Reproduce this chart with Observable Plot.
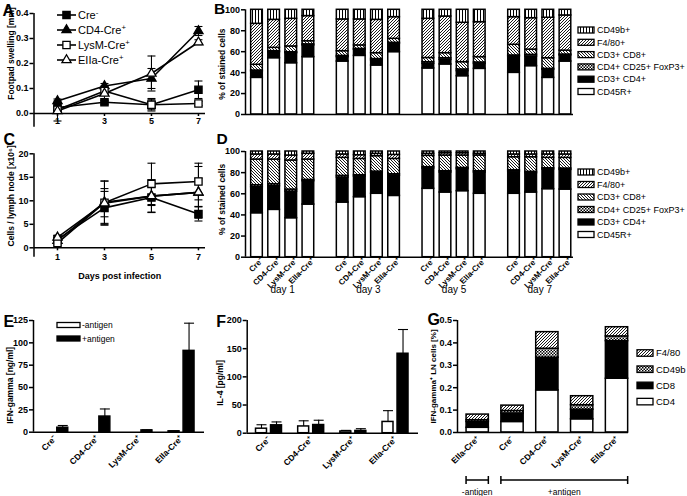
<!DOCTYPE html>
<html><head><meta charset="utf-8">
<script src="https://cdn.jsdelivr.net/npm/d3@7"></script>
<script src="https://cdn.jsdelivr.net/npm/@observablehq/plot@0.6"></script>
<style>
html,body{margin:0;padding:0;background:#fff;}
#fig{position:relative;width:687px;height:496px;overflow:hidden;background:#fff;font-family:"Liberation Sans",Arial,sans-serif;}
#fig svg{position:absolute;overflow:visible;}
</style></head><body><div id="fig"></div>
<script>
// ---------------- data ----------------
const days = [1, 3, 5, 7];
const genotypes = ["Cre⁻", "CD4-Cre⁺", "LysM-Cre⁺", "EIIa-Cre⁺"];
const dayLabels = ["day 1", "day 3", "day 5", "day 7"];

// A: footpad swelling [mm]
const swellCre  = [0.024, 0.045, 0.035, 0.095];
const swellCD4  = [0.05, 0.11, 0.14, 0.33];
const swellLysM = [0.015, 0.09, 0.035, 0.04];
const swellEIIa = [0.01, 0.08, 0.16, 0.285];
const swellCreErr  = [0.01, 0.008, 0.02, 0.035];
const swellCD4Err  = [0.008, 0.01, 0.04, 0.018];
const swellLysMErr = [0.012, 0.015, 0.025, 0.008];
const swellEIIaErr = [0.04, 0.03, 0.07, 0.01];

// C: cells / lymph node [x10^6]
const cellsCre  = [1.8, 8.5, 10.7, 7.2];
const cellsCD4  = [1.5, 9.7, 11.0, 11.8];
const cellsLysM = [1.0, 9.6, 13.6, 14.1];
const cellsEIIa = [2.2, 9.5, 11.0, 11.8];
const cellsCreErr  = [0.4, 3.5, 3.1, 1.5];
const cellsCD4Err  = [0.4, 4.5, 3.5, 5.5];
const cellsLysMErr = [0.4, 3.0, 4.4, 3.9];
const cellsEIIaErr = [0.5, 4.7, 2.0, 3.0];

// B: footpad, % of stained cells (16 bars: day1..day7 x Cre-, CD4, LysM, EIIa)
const footCD45R  = [35, 53.8, 49, 54.8, 50.6, 56, 46.8, 59.6, 44, 47.8, 36.6, 43.6, 39.8, 46.2, 35, 50.6];
const footCD3CD4 = [6, 5.7, 9.6, 11.2, 4.2, 5.8, 4.8, 7.9, 4.4, 4.4, 4.8, 4.8, 15.6, 9.2, 7.7, 5.8];
const footTreg   = [1, 1, 0.9, 1, 1.2, 0.9, 1.4, 1, 1.6, 1.6, 1.6, 1.3, 1, 1.6, 0.9, 0.9];
const footCD8    = [5.5, 3.2, 5.5, 3, 4.5, 3.3, 5.6, 3.8, 4, 4.8, 7, 5.1, 10.2, 5, 10.2, 3.7];
const footF480   = [39.1, 26.7, 26.4, 24, 30.3, 24.8, 31.8, 20.7, 37.4, 35, 37.6, 33.4, 26.4, 30, 38.6, 33.6];
const footCD49b  = [13.4, 9.6, 8.6, 6, 9.2, 9.2, 9.6, 7, 8.6, 6.4, 12.4, 11.8, 7, 8, 7.6, 5.4];

// D: lymph node, % of stained cells
const lnCD45R  = [41.6, 44.8, 36.9, 49.8, 51.7, 56.8, 60, 58, 64.7, 61.2, 62.5, 60, 60, 61.2, 64.4, 64];
const lnCD3CD4 = [24.6, 22.4, 25.2, 22.1, 23.7, 19.5, 19.8, 19, 19.2, 18.9, 20.8, 20.1, 21, 18.3, 18.6, 18.6];
const lnTreg   = [1.9, 1.9, 1.9, 1.3, 1.6, 1.3, 1.2, 1.5, 1.3, 1.3, 1.2, 1.3, 1.3, 1.3, 1.2, 1.3];
const lnCD8    = [24.3, 23.3, 27.5, 19.2, 17, 15.4, 14.6, 14.5, 10.7, 14.8, 11.7, 14.8, 12.3, 13.8, 9.8, 10.1];
const lnF480   = [4.8, 4.8, 4.7, 5.4, 3.2, 3.5, 2.2, 3.8, 1.9, 2.2, 2.2, 1.6, 2.6, 2.6, 3.2, 3.2];
const lnCD49b  = [2.8, 2.8, 3.8, 2.2, 2.8, 3.5, 2.2, 3.2, 2.2, 1.6, 1.6, 2.2, 2.8, 2.8, 2.8, 2.8];
const stackLabels = ["CD45R+", "CD3+ CD4+", "CD4+ CD25+ FoxP3+", "CD3+ CD8+", "F4/80+", "CD49b+"];

// E: IFN-gamma [ng/ml]
const ifnMinus    = [0, 0, 0, 1];
const ifnMinusErr = [0, 0, 0, 0.4];
const ifnPlus     = [5, 17.5, 2, 91];
const ifnPlusErr  = [2.5, 8.5, 0.6, 31];

// F: IL-4 [pg/ml]
const il4Minus    = [8, 12, 3, 20];
const il4MinusErr = [7, 10, 2, 20];
const il4Plus     = [14, 14.5, 4, 141];
const il4PlusErr  = [6, 8.5, 4, 43];

// G: IFN-gamma+ LN cells [%]
const gLabels = ["EIIa-Cre⁺", "Cre⁻", "CD4-Cre⁺", "LysM-Cre⁺", "EIIa-Cre⁺"];
const gCD4   = [0.021, 0.047, 0.188, 0.059, 0.24];
const gCD8   = [0.026, 0.038, 0.146, 0.043, 0.168];
const gCD49b = [0.008, 0.011, 0.04, 0.02, 0.021];
const gF480  = [0.025, 0.024, 0.074, 0.04, 0.041];
const gStackLabels = ["CD4", "CD8", "CD49b", "F4/80"];
const antigenGroups = [{label: "-antigen", from: 0, to: 0}, {label: "+antigen", from: 1, to: 4}];

// ---------------- helpers ----------------
const FONT = '"Liberation Sans", Arial, sans-serif';
const fig = document.getElementById("fig");
const baseStyle = {fontFamily: FONT, fontSize: "9px", background: "transparent", overflow: "visible", color: "black"};
function mount(svg, left, top) {
  svg.style.position = "absolute"; svg.style.left = left + "px"; svg.style.top = top + "px";
  svg.style.overflow = "visible";
  fig.appendChild(svg); return svg;
}
// patterns
const defs = d3.create("svg").attr("width", 0).attr("height", 0);
defs.html(`<defs>
<pattern id="pVert" patternUnits="userSpaceOnUse" width="3" height="3"><rect width="3" height="3" fill="white"/><rect x="1" width="1" height="3" fill="black"/></pattern>
<pattern id="pDiagR" patternUnits="userSpaceOnUse" width="3" height="3"><rect width="3" height="3" fill="white"/><path d="M-0.75,0.75L0.75,-0.75M0,3L3,0M2.25,3.75L3.75,2.25" stroke="black" stroke-width="0.9"/></pattern>
<pattern id="pDiagL" patternUnits="userSpaceOnUse" width="3" height="3"><rect width="3" height="3" fill="white"/><path d="M-0.75,2.25L0.75,3.75M0,0L3,3M2.25,-0.75L3.75,0.75" stroke="black" stroke-width="0.9"/></pattern>
<pattern id="pCheck" patternUnits="userSpaceOnUse" width="3" height="3"><rect width="3" height="3" fill="white"/><rect width="1.5" height="1.5" fill="black"/><rect x="1.5" y="1.5" width="1.5" height="1.5" fill="black"/></pattern>
</defs>`);
mount(defs.node(), 0, 0);

const stackFills = ["white", "black", "url(#pCheck)", "url(#pDiagL)", "url(#pDiagR)", "url(#pVert)"];
const gFills = ["white", "black", "url(#pCheck)", "url(#pDiagR)"];
const cap = {draw(ctx) { ctx.moveTo(-4, 0); ctx.lineTo(4, 0); }};
const capW = {draw(ctx) { ctx.moveTo(-5, 0); ctx.lineTo(5, 0); }};
const markerStyles = [
  {symbol: "square", fill: "black", r: 4.1},
  {symbol: "triangle", fill: "black", r: 3.4},
  {symbol: "square", fill: "white", r: 4.1},
  {symbol: "triangle", fill: "white", r: 3.4}
];
const letter = (t, dx, dy, fs = 16) => Plot.text([t], {frameAnchor: "top-left", textAnchor: "start", lineAnchor: "top", dx, dy, fontSize: fs, fontWeight: "bold"});
const yTitle = (t, dx, dy, fs = 8.5) => Plot.text([t], {frameAnchor: "left", textAnchor: "middle", lineAnchor: "middle", rotate: -90, dx, dy, fontSize: fs, fontWeight: "bold"});

// ---------------- line panels A & C ----------------
function lineTable(vals, errs) {
  return vals.flatMap((arr, k) => arr.map((v, j) => ({series: k, day: days[j], v, e: errs[k][j]})));
}
function linePanel(table, o) {
  const marks = [
    Plot.ruleX([0], {y1: o.yExt, y2: o.yDomain[1], strokeWidth: 1.5}),
    Plot.ruleY([o.yDomain[0]], {strokeWidth: 1.5}),
    Plot.axisY({ticks: o.yTicks, tickFormat: o.yFormat, tickSize: 4, tickPadding: 1.5, fontWeight: "bold", fontSize: 9, strokeWidth: 1.5, label: null}),
    Plot.axisX({ticks: days, tickSize: 3, tickPadding: o.xPad, fontWeight: "bold", fontSize: 9, strokeWidth: 1.5, label: null}),
    Plot.line(table, {x: "day", y: "v", z: "series", stroke: "black", strokeWidth: 1.6}),
    Plot.ruleX(table, {x: "day", y1: d => d.v - d.e, y2: d => d.v + d.e, strokeWidth: 1.1}),
    Plot.dot(table, {x: "day", y: d => d.v + d.e, symbol: cap, stroke: "black", strokeWidth: 1.1}),
    Plot.dot(table, {x: "day", y: d => d.v - d.e, symbol: cap, stroke: "black", strokeWidth: 1.1})
  ];
  markerStyles.forEach((m, k) => marks.push(Plot.dot(table.filter(d => d.series === k),
    {x: "day", y: "v", symbol: m.symbol, r: m.r, fill: m.fill, stroke: "black", strokeWidth: 1.3})));
  marks.push(yTitle(o.title, -23, o.titleDy), letter(o.letter, o.lx, o.ly));
  if (o.xTitle) marks.push(Plot.text([o.xTitle], {frameAnchor: "bottom", dy: 30.7, fontSize: 9, fontWeight: "bold"}));
  return Plot.plot({
    width: 230, height: o.height, marginLeft: 33.5, marginRight: 25, marginTop: o.mt, marginBottom: o.mb,
    x: {domain: [0, 7.3]}, y: {domain: o.yDomain}, style: baseStyle, marks
  });
}
mount(linePanel(lineTable([swellCre, swellCD4, swellLysM, swellEIIa], [swellCreErr, swellCD4Err, swellLysMErr, swellEIIaErr]), {
  height: 140, mt: 13, mb: 27, yDomain: [0, 0.4], yExt: -0.055, yTicks: [0, 0.1, 0.2, 0.3, 0.4], yFormat: ".1f", xPad: 1,
  title: "Footpad swelling [mm]", titleDy: -10, letter: "A", lx: -31.5, ly: -9
}), 0, 0);
mount(linePanel(lineTable([cellsCre, cellsCD4, cellsLysM, cellsEIIa], [cellsCreErr, cellsCD4Err, cellsLysMErr, cellsEIIaErr]), {
  height: 160, mt: 13.3, mb: 52.7, yDomain: [0, 20], yExt: -2, yTicks: [0, 5, 10, 15, 20], yFormat: "d", xPad: 3,
  title: "Cells / lymph node [x10⁶]", titleDy: -5, letter: "C", lx: -30.5, ly: -20.3, xTitle: "Days post infection"
}), 0, 140);

// legend A
{
  const s = d3.create("svg").attr("width", 130).attr("height", 70).style("font-family", FONT).style("font-size", "11px");
  const names = [["Cre", "-"], ["CD4-Cre", "+"], ["LysM-Cre", "+"], ["EIIa-Cre", "+"]];
  names.forEach((n, k) => {
    const y = 10 + k * 15, m = markerStyles[k];
    s.append("line").attr("x1", 7).attr("x2", 26).attr("y1", y).attr("y2", y).attr("stroke", "black").attr("stroke-width", 1.6);
    const type = m.symbol === "square" ? d3.symbolSquare : d3.symbolTriangle;
    s.append("path").attr("d", d3.symbol(type, Math.PI * m.r * m.r)()).attr("transform", `translate(16.5,${y})`)
      .attr("fill", m.fill).attr("stroke", "black").attr("stroke-width", 1.3);
    const t = s.append("text").attr("x", 28).attr("y", y).attr("dy", "0.36em");
    t.append("tspan").text(n[0]);
    t.append("tspan").attr("dy", "-0.45em").attr("font-size", "0.7em").text(n[1]);
  });
  mount(s.node(), 50, 5);
}

// ---------------- stacked panels B & D ----------------
const slotOf = i => Math.floor(i / 4) * 5 + (i % 4);
function stackTable(series) {
  const rows = [];
  for (let i = 0; i < series[0].length; i++) {
    let c = 0;
    series.forEach((arr, k) => { rows.push({k, slot: slotOf(i), y1: c, y2: c + arr[i]}); c += arr[i]; });
  }
  return rows;
}
function stackPanel(series, o) {
  const table = stackTable(series);
  const marks = stackFills.map((f, k) => Plot.rect(table.filter(d => d.k === k),
    {x1: d => d.slot - 0.34, x2: d => d.slot + 0.34, y1: "y1", y2: "y2", fill: f, stroke: "black", strokeWidth: 1.5}));
  marks.push(
    Plot.ruleX([-0.67], {y1: 0, y2: 100, strokeWidth: 1.5}),
    Plot.ruleY([0], {strokeWidth: 1.5}),
    Plot.axisY({ticks: [0, 20, 40, 60, 80, 100], tickSize: 4, tickPadding: 1.5, fontWeight: "bold", fontSize: 9, strokeWidth: 1.5, label: null}),
    yTitle("% of stained cells", -23, o.titleDy),
    letter(o.letter, o.lx, o.ly, 15.5)
  );
  if (o.xLabels) {
    const slots = series[0].map((_, i) => slotOf(i));
    marks.push(Plot.axisX({ticks: slots, tickFormat: s => genotypes[s % 5], tickRotate: -45, tickSize: 0, tickPadding: 3, dx: 5, dy: -1, fontWeight: "bold", fontSize: 8, label: null}));
    marks.push(Plot.text(dayLabels, {x: (d, i) => i * 5 + 1.5, frameAnchor: "bottom", dy: 36, fontSize: 10}));
  }
  return Plot.plot({
    width: 487, height: o.height, marginLeft: 45, marginRight: 114, marginTop: o.mt, marginBottom: o.mb,
    x: {domain: [-0.67, 18.47], axis: o.xLabels ? undefined : null}, y: {domain: [0, 100]}, style: baseStyle, marks
  });
}
mount(stackPanel([footCD45R, footCD3CD4, footTreg, footCD8, footF480, footCD49b], {height: 140, mt: 9.3, mb: 26, titleDy: 2, letter: "B", lx: -31.5, ly: -7}), 200, 0);
mount(stackPanel([lnCD45R, lnCD3CD4, lnTreg, lnCD8, lnF480, lnCD49b], {height: 160, mt: 11, mb: 43.3, titleDy: -5, letter: "D", lx: -29, ly: -19, xLabels: true}), 200, 140);

function boxLegend(left, top, w, h, items, o) {
  const s = d3.create("svg").attr("width", w).attr("height", h).style("font-family", FONT).style("font-size", o.fs + "px");
  items.forEach((it, k) => {
    const y = o.y0 + k * o.step;
    s.append("rect").attr("x", o.sx).attr("y", y - o.sh / 2).attr("width", o.sw).attr("height", o.sh)
      .attr("fill", it.fill).attr("stroke", "black").attr("stroke-width", 1.3);
    s.append("text").attr("x", o.tx).attr("y", y).attr("dy", "0.36em").text(it.label);
  });
  mount(s.node(), left, top);
}
const bdItems = stackLabels.map((l, k) => ({label: l, fill: stackFills[k]})).reverse();
boxLegend(570, 20, 117, 85, bdItems, {fs: 9, sx: 8, sw: 16, sh: 6, tx: 27, y0: 10, step: 12.3});
boxLegend(570, 160, 117, 85, bdItems, {fs: 9, sx: 8, sw: 16, sh: 6, tx: 27, y0: 12, step: 12.5});

// ---------------- grouped bar panels E & F ----------------
function pairTable(minus, minusErr, plus, plusErr) {
  return [
    ...minus.map((v, g) => ({g, pos: g - 0.178, v, e: minusErr[g], fill: "white"})),
    ...plus.map((v, g) => ({g, pos: g + 0.178, v, e: plusErr[g], fill: "black"}))
  ];
}
function pairPanel(table, o) {
  const withErr = table.filter(d => d.e > 0);
  return Plot.plot({
    width: o.width, height: 196, marginLeft: o.ml, marginRight: o.mr, marginTop: 20, marginBottom: o.mb,
    x: {domain: [-0.517, 3.545]}, y: {domain: o.yDomain}, style: baseStyle,
    marks: [
      Plot.ruleX(withErr, {x: "pos", y1: "v", y2: d => d.v + d.e, strokeWidth: 1.1}),
      Plot.dot(withErr, {x: "pos", y: d => d.v + d.e, symbol: capW, stroke: "black", strokeWidth: 1.1}),
      Plot.rect(table.filter(d => d.fill === "white"), {x1: d => d.pos - 0.13, x2: d => d.pos + 0.13, y1: 0, y2: "v", fill: "white", stroke: "black", strokeWidth: 1.5}),
      Plot.rect(table.filter(d => d.fill === "black"), {x1: d => d.pos - 0.13, x2: d => d.pos + 0.13, y1: 0, y2: "v", fill: "black", stroke: "black", strokeWidth: 1.5}),
      Plot.ruleX([-0.517], {y1: 0, y2: o.yDomain[1], strokeWidth: 1.5}),
      Plot.ruleY([0], {strokeWidth: 1.5}),
      Plot.axisY({ticks: o.yTicks, tickSize: 4, tickPadding: 1.5, fontWeight: "bold", fontSize: 9, strokeWidth: 1.5, label: null}),
      Plot.axisX({ticks: [0, 1, 2, 3], tickFormat: i => genotypes[i], tickRotate: -45, tickSize: 0, tickPadding: 5, fontWeight: "bold", fontSize: 8.5, label: null}),
      yTitle(o.title, o.tdx, o.tdy),
      letter(o.letter, o.lx, -5)
    ]
  });
}
mount(pairPanel(pairTable(ifnMinus, ifnMinusErr, ifnPlus, ifnPlusErr), {
  width: 230, ml: 33, mr: 26, mb: 64.3, yDomain: [0, 125], yTicks: [0, 25, 50, 75, 100, 125],
  title: "IFN-gamma [ng/ml]", tdx: -23, tdy: 9, letter: "E", lx: -30
}), 0, 300);
mount(pairPanel(pairTable(il4Minus, il4MinusErr, il4Plus, il4PlusErr), {
  width: 250, ml: 46.7, mr: 32, mb: 63.3, yDomain: [0, 200], yTicks: [0, 50, 100, 150, 200],
  title: "IL-4 [pg/ml]", tdx: -26.7, tdy: 6, letter: "F", lx: -31
}), 200, 300);
boxLegend(50, 315, 100, 35, [{label: "-antigen", fill: "white"}, {label: "+antigen", fill: "black"}],
  {fs: 8.5, sx: 7, sw: 23, sh: 5, tx: 32, y0: 10, step: 13.5});

// ---------------- stacked panel G ----------------
{
  const series = [gCD4, gCD8, gCD49b, gF480];
  const rows = [];
  for (let i = 0; i < gCD4.length; i++) {
    let c = 0;
    series.forEach((arr, k) => { rows.push({k, i, y1: c, y2: c + arr[i]}); c += arr[i]; });
  }
  const marks = gFills.map((f, k) => Plot.rect(rows.filter(d => d.k === k),
    {x1: d => d.i - 0.32, x2: d => d.i + 0.32, y1: "y1", y2: "y2", fill: f, stroke: "black", strokeWidth: 1.5}));
  marks.push(
    Plot.ruleX([-0.58], {y1: 0, y2: 0.5, strokeWidth: 1.5}),
    Plot.ruleY([0], {strokeWidth: 1.5}),
    Plot.axisY({ticks: [0, 0.1, 0.2, 0.3, 0.4, 0.5], tickFormat: ".1f", tickSize: 4, tickPadding: 1.5, fontWeight: "bold", fontSize: 9, strokeWidth: 1.5, label: null}),
    Plot.axisX({ticks: [0, 1, 2, 3, 4], tickFormat: i => gLabels[i], tickRotate: -45, tickSize: 0, tickPadding: 5, fontWeight: "bold", fontSize: 8.5, label: null}),
    yTitle("IFN-gamma⁺ LN cells [%]", -24, 0, 8),
    letter("G", -30, -6.5)
  );
  const G = Plot.plot({
    width: 267, height: 196, marginLeft: 37, marginRight: 59, marginTop: 20, marginBottom: 64,
    x: {domain: [-0.58, 4.33]}, y: {domain: [0, 0.5]}, style: baseStyle, marks
  });
  const gx = G.scale("x");
  const sel = d3.select(G).append("g").attr("stroke", "black").attr("stroke-width", 1.5);
  antigenGroups.forEach(a => {
    const x1 = gx.apply(a.from - 0.32), x2 = gx.apply(a.to + 0.32), y = 180;
    sel.append("line").attr("x1", x1).attr("x2", x2).attr("y1", y).attr("y2", y);
    sel.append("line").attr("x1", x1).attr("x2", x1).attr("y1", y - 4).attr("y2", y + 4);
    sel.append("line").attr("x1", x2).attr("x2", x2).attr("y1", y - 4).attr("y2", y + 4);
    d3.select(G).append("text").attr("x", (x1 + x2) / 2).attr("y", 192).attr("dy", "0.35em")
      .attr("text-anchor", "middle").style("font-family", FONT).style("font-size", "8.5px").text(a.label);
  });
  mount(G, 420, 300);
  const gItems = gStackLabels.map((l, k) => ({label: l, fill: gFills[k]})).reverse();
  boxLegend(630, 340, 57, 70, gItems, {fs: 9.5, sx: 7, sw: 16, sh: 6.5, tx: 26, y0: 13, step: 16.2});
}
</script></body></html>
